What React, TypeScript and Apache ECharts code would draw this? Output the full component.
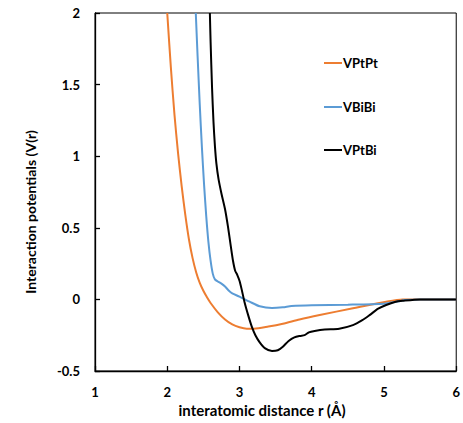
import React, { useEffect, useRef } from "react";
import * as echarts from "echarts";

const seriesNames = ["VPtPt", "VBiBi", "VPtBi"];
const seriesColors = ["#ED7D31", "#5B9BD5", "#000000"];

const vPtPt: [number, number][] = [
  [2.0, 2.0], [2.05, 1.62], [2.1, 1.29], [2.15, 1.02], [2.2, 0.79], [2.25, 0.59],
  [2.3, 0.42], [2.35, 0.29], [2.4, 0.19], [2.45, 0.115], [2.5, 0.06], [2.55, 0.015],
  [2.6, -0.025], [2.7, -0.09], [2.8, -0.14], [2.9, -0.175], [3.0, -0.195], [3.1, -0.205],
  [3.2, -0.205], [3.4, -0.19], [3.6, -0.17], [3.83, -0.14], [4.11, -0.109], [4.57, -0.062],
  [5.03, -0.016], [5.26, 0.0], [6.0, 0.0],
];

const vBiBi: [number, number][] = [
  [2.395, 2.0], [2.42, 1.7], [2.45, 1.36], [2.48, 1.06], [2.51, 0.8], [2.54, 0.58],
  [2.57, 0.4], [2.6, 0.27], [2.63, 0.18], [2.66, 0.14], [2.7, 0.125], [2.75, 0.11],
  [2.8, 0.09], [2.85, 0.062], [2.9, 0.042], [3.0, 0.019], [3.14, -0.016], [3.28, -0.048],
  [3.45, -0.06], [3.6, -0.055], [3.72, -0.046], [4.0, -0.04], [4.5, -0.037], [5.0, -0.03],
  [5.17, -0.016], [5.3, -0.005], [5.5, 0.0], [6.0, 0.0],
];

const vPtBi: [number, number][] = [
  [2.59, 2.0], [2.6, 1.8], [2.62, 1.48], [2.64, 1.24], [2.66, 1.07], [2.68, 0.95],
  [2.71, 0.84], [2.75, 0.74], [2.8, 0.63], [2.84, 0.51], [2.88, 0.37], [2.91, 0.27],
  [2.94, 0.2], [2.97, 0.17], [3.0, 0.13], [3.03, 0.07], [3.07, -0.02], [3.12, -0.11],
  [3.17, -0.19], [3.22, -0.25], [3.28, -0.3], [3.35, -0.34], [3.45, -0.36], [3.53, -0.355],
  [3.6, -0.33], [3.68, -0.29], [3.76, -0.265], [3.84, -0.255], [3.9, -0.25], [3.96, -0.23],
  [4.04, -0.22], [4.18, -0.21], [4.38, -0.205], [4.57, -0.18], [4.7, -0.145], [4.8, -0.11],
  [4.92, -0.065], [5.03, -0.039], [5.15, -0.018], [5.26, -0.01], [5.5, 0.0], [6.0, 0.0],
];

const seriesData = [vPtPt, vBiBi, vPtBi];

const xTitle = "interatomic distance r (Å)";
const yTitle = "Interaction potentials (V(r)";

const FONT = "Lato";

const legendX = 324;
const legendYs = [63, 107, 150];

export default function App() {
  const ref = useRef<HTMLDivElement>(null);
  useEffect(() => {
    if (!ref.current) return;
    const chart = echarts.init(ref.current, undefined, { renderer: "svg" });
    const legendGraphics: any[] = [];
    seriesNames.forEach((name, i) => {
      legendGraphics.push({
        type: "line",
        shape: { x1: legendX, y1: legendYs[i], x2: legendX + 18, y2: legendYs[i] },
        style: { stroke: seriesColors[i], lineWidth: 2 },
      });
      legendGraphics.push({
        type: "text",
        x: legendX + 19,
        y: legendYs[i],
        style: {
          text: name,
          fontFamily: FONT,
          fontWeight: "bold",
          fontSize: 13,
          fill: "#000",
          align: "left",
          verticalAlign: "middle",
        },
      });
    });
    chart.setOption({
      animation: false,
      grid: {
        left: 95,
        top: 13,
        right: 6,
        bottom: 52,
        show: true,
        borderColor: "#000",
        borderWidth: 1,
      },
      xAxis: {
        type: "value",
        min: 1,
        max: 6,
        interval: 1,
        axisLine: { onZero: false, lineStyle: { color: "#000", width: 1.3 } },
        axisTick: { inside: true, length: 5, lineStyle: { color: "#000", width: 1.3 } },
        splitLine: { show: false },
        axisLabel: { margin: 14, fontFamily: FONT, fontWeight: "bold", fontSize: 13, color: "#000" },
      },
      yAxis: {
        type: "value",
        min: -0.5,
        max: 2,
        interval: 0.5,
        axisLine: { onZero: false, lineStyle: { color: "#000", width: 1.3 } },
        axisTick: { inside: true, length: 5, lineStyle: { color: "#000", width: 1.3 } },
        splitLine: { show: false },
        axisLabel: { margin: 15, fontFamily: FONT, fontWeight: "bold", fontSize: 13, color: "#000" },
      },
      graphic: [
        {
          type: "text",
          x: 262,
          y: 410,
          style: {
            text: xTitle,
            fontFamily: FONT,
            fontWeight: "bold",
            fontSize: 15,
            fill: "#000",
            align: "center",
            verticalAlign: "middle",
          },
        },
        {
          type: "text",
          x: 30,
          y: 212,
          rotation: Math.PI / 2,
          style: {
            text: yTitle,
            fontFamily: FONT,
            fontWeight: "bold",
            fontSize: 14,
            fill: "#000",
            align: "center",
            verticalAlign: "middle",
          },
        },
        ...legendGraphics,
      ],
      series: seriesNames.map((name, i) => ({
        name,
        type: "line",
        data: seriesData[i],
        showSymbol: false,
        symbol: "none",
        smooth: 0.25,
        clip: true,
        lineStyle: { color: seriesColors[i], width: 2 },
        itemStyle: { color: seriesColors[i] },
      })),
    });
    return () => chart.dispose();
  }, []);
  return <div ref={ref} style={{ width: 463, height: 423, position: "absolute", left: 0, top: 0 }} />;
}
